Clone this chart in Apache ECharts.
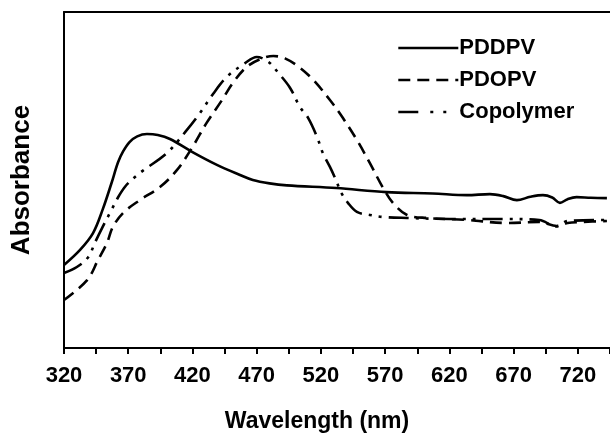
<!DOCTYPE html>
<html>
<head>
<meta charset="utf-8">
<script src="https://cdn.jsdelivr.net/npm/echarts@6/dist/echarts.min.js"></script>
<style>
html,body{margin:0;padding:0;background:#fff;}
#chart{width:610px;height:440px;}
</style>
</head>
<body>
<div id="chart"></div>
<script>
// Data (absorbance in arbitrary units)
var seriesNames = ['PDDPV', 'PDOPV', 'Copolymer'];
var xTicks = [320, 370, 420, 470, 520, 570, 620, 670, 720];

var pddpvX = [320, 332.5, 342.6, 350, 357, 362, 366, 371, 377, 384.6, 393, 402.5, 420, 439, 457, 467, 480, 493.5, 532, 571, 607, 633.6, 651.5, 662, 672.5, 683, 692.8, 700, 706, 712, 719, 730, 742.6];
var pddpvY = [0.247, 0.292, 0.342, 0.411, 0.491, 0.552, 0.585, 0.613, 0.630, 0.637, 0.634, 0.622, 0.583, 0.545, 0.515, 0.500, 0.490, 0.484, 0.476, 0.464, 0.460, 0.455, 0.458, 0.452, 0.440, 0.450, 0.455, 0.448, 0.432, 0.443, 0.449, 0.447, 0.446];

var pdopvX = [320, 338, 346.5, 353.5, 358, 366, 379, 394.7, 408, 420, 431, 443, 451.5, 462, 473, 483, 492, 503, 514, 527, 537, 548, 558, 568, 576, 587, 602.5, 633.6, 665, 690, 703.6, 712, 724, 742.6];
var pdopvY = [0.143, 0.202, 0.262, 0.313, 0.360, 0.402, 0.440, 0.479, 0.530, 0.598, 0.670, 0.738, 0.789, 0.836, 0.860, 0.869, 0.862, 0.836, 0.798, 0.738, 0.685, 0.619, 0.551, 0.479, 0.432, 0.396, 0.387, 0.381, 0.372, 0.375, 0.363, 0.372, 0.375, 0.378];

var copolyX = [320, 330, 339, 344, 350, 357, 362, 367.5, 374, 381.5, 400, 415.7, 425.8, 436, 446.8, 461, 470, 479, 487, 496, 503.7, 510, 517, 521.5, 527, 531, 536, 541, 548, 558, 568, 587, 620, 660, 690, 703, 712, 742.6];
var copolyY = [0.223, 0.241, 0.271, 0.313, 0.360, 0.411, 0.448, 0.480, 0.505, 0.528, 0.580, 0.649, 0.699, 0.756, 0.807, 0.848, 0.866, 0.852, 0.818, 0.774, 0.717, 0.685, 0.628, 0.580, 0.539, 0.506, 0.461, 0.432, 0.405, 0.396, 0.390, 0.387, 0.384, 0.384, 0.381, 0.362, 0.378, 0.381];

function pairs(xs, ys) {
  var out = [];
  for (var i = 0; i < xs.length; i++) out.push([xs[i], ys[i]]);
  return out;
}

var FONT = '"Liberation Sans", Arial, Helvetica, sans-serif';
var chart = echarts.init(document.getElementById('chart'), null, {renderer: 'canvas'});

var lineBase = {color: '#000', width: 2.6};

chart.setOption({
  animation: false,
  backgroundColor: '#fff',
  grid: {left: 64, top: 12, right: 0, bottom: 92, containLabel: false},
  legend: {
    orient: 'vertical',
    left: 392,
    top: 32,
    itemWidth: 60,
    itemHeight: 14,
    itemGap: 10,
    data: [
      {name: seriesNames[0]},
      {name: seriesNames[1]},
      {name: seriesNames[2], lineStyle: {type: [20, 12, 3, 10, 3, 20]}}
    ],
    itemStyle: {opacity: 0, borderWidth: 0},
    lineStyle: {width: 2.6, color: '#000'},
    textStyle: {fontFamily: FONT, fontWeight: 'bold', fontSize: 22, color: '#000', lineHeight: 22, padding: [0, 0, 0, -4]}
  },
  xAxis: [{
    type: 'value',
    min: 320,
    max: 745,
    interval: 50,
    name: 'Wavelength (nm)',
    nameLocation: 'middle',
    nameGap: 62,
    nameTextStyle: {fontFamily: FONT, fontWeight: 'bold', fontSize: 23, color: '#000', padding: [0, 40, 0, 0]},
    axisLine: {show: true, lineStyle: {color: '#000', width: 2}},
    axisTick: {show: true, length: 6, lineStyle: {color: '#000', width: 2}},
    minorTick: {show: true, splitNumber: 2, length: 6, lineStyle: {color: '#000', width: 2}},
    axisLabel: {
      fontFamily: FONT, fontWeight: 'bold', fontSize: 22, color: '#000', margin: 17,
      showMaxLabel: false,
      formatter: function (v) { return xTicks.indexOf(v) >= 0 ? String(v) : ''; }
    },
    splitLine: {show: false}
  }, {
    type: 'value',
    position: 'top',
    min: 320,
    max: 745,
    axisLine: {show: true, onZero: false, lineStyle: {color: '#000', width: 2}},
    axisTick: {show: false},
    axisLabel: {show: false},
    splitLine: {show: false}
  }],
  yAxis: {
    type: 'value',
    min: 0,
    max: 1,
    name: 'Absorbance',
    nameLocation: 'middle',
    nameGap: 29,
    nameTextStyle: {fontFamily: FONT, fontWeight: 'bold', fontSize: 26, color: '#000'},
    axisLine: {show: true, lineStyle: {color: '#000', width: 2}},
    axisTick: {show: false},
    axisLabel: {show: false},
    splitLine: {show: false}
  },
  series: [{
    name: 'PDDPV',
    type: 'line',
    symbol: 'none',
    smooth: 0.35,
    data: pairs(pddpvX, pddpvY),
    lineStyle: Object.assign({}, lineBase, {type: 'solid'}),
    itemStyle: {color: '#000'}
  }, {
    name: 'PDOPV',
    type: 'line',
    symbol: 'none',
    smooth: 0.35,
    data: pairs(pdopvX, pdopvY),
    lineStyle: Object.assign({}, lineBase, {type: [12, 7]}),
    itemStyle: {color: '#000'}
  }, {
    name: 'Copolymer',
    type: 'line',
    symbol: 'none',
    smooth: 0.35,
    data: pairs(copolyX, copolyY),
    lineStyle: Object.assign({}, lineBase, {type: [20, 7, 3, 7, 3, 7]}),
    itemStyle: {color: '#000'}
  }]
});
</script>
</body>
</html>
